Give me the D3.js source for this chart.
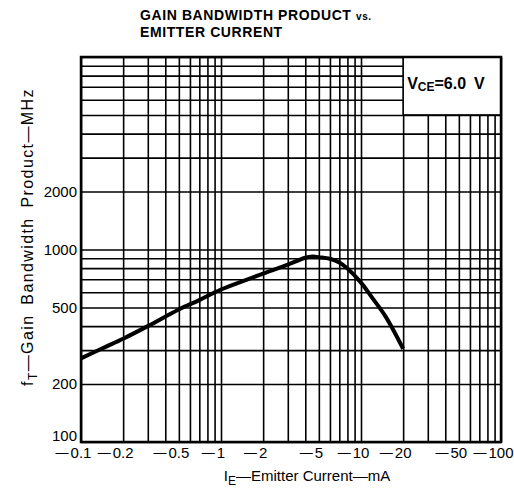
<!DOCTYPE html>
<html>
<head>
    <title>Gain Bandwidth Product vs. Emitter Current</title>
    <style>
        body {
            margin: 0;
            background-color: #ffffff;
        }
        text {
            font-family: "Liberation Sans", Arial, Helvetica, sans-serif;
            fill: #000;
        }
        .grid line {
            stroke: #000;
            stroke-width: 1.6px;
        }
        .grid path {
            display: none;
        }
    </style>
    <script src="https://d3js.org/d3.v7.min.js"></script>
</head>
<body>
    <div id="chart"></div>
    <script>
        // emitter current (mA) and f_T (MHz)
        var currents = [-0.1, -0.15, -0.2, -0.3, -0.5, -0.7, -1, -1.5, -2, -3, -4, -4.5, -5, -6, -7, -8, -10, -12, -15, -20];
        var gainBw = [272, 312, 344, 400, 488, 546, 620, 694, 750, 835, 906, 920, 912, 895, 855, 796, 673, 562, 448, 305];

        var xTickLabels = [-0.1, -0.2, -0.5, -1, -2, -5, -10, -20, -50, -100];
        var yTickLabels = [100, 200, 500, 1000, 2000];

        var margin = { top: 57, right: 13, bottom: 62, left: 81 };
        var width = 514 - margin.left - margin.right;
        var height = 504 - margin.top - margin.bottom;

        var root = d3.select('#chart')
            .append('svg')
            .attr('width', 514)
            .attr('height', 504);

        var svg = root.append('g')
            .attr('transform', 'translate(' + margin.left + ',' + margin.top + ')');

        var x = d3.scaleLog()
            .domain([0.1, 100])
            .range([0, width]);

        var y = d3.scaleLog()
            .domain([100, 10000])
            .range([height, 0]);

        // log grid
        svg.append('g')
            .attr('class', 'grid')
            .attr('transform', 'translate(0,' + height + ')')
            .call(d3.axisBottom(x).tickValues(x.ticks()).tickSize(-height).tickFormat(''));

        svg.append('g')
            .attr('class', 'grid')
            .call(d3.axisLeft(y).tickValues(y.ticks()).tickSize(-width).tickFormat(''));

        // V_CE box in the top right corner
        svg.append('rect')
            .attr('x', x(20))
            .attr('y', 0)
            .attr('width', width - x(20))
            .attr('height', y(5000))
            .style('fill', '#fff')
            .style('stroke', '#000')
            .style('stroke-width', 1.6);

        var vce = svg.append('text')
            .attr('x', x(20) + 4)
            .attr('y', 32)
            .style('font-size', '16px')
            .style('font-weight', 'bold');
        vce.append('tspan').text('V');
        vce.append('tspan').attr('dy', 2).style('font-size', '12px').text('CE');
        vce.append('tspan').attr('dy', -2).text('=6.0\u2002V');

        // frame
        svg.append('rect')
            .attr('width', width)
            .attr('height', height)
            .style('fill', 'none')
            .style('stroke', '#000')
            .style('stroke-width', 2.5);

        // curve
        var line = d3.line()
            .x(function(d) { return x(Math.abs(d[0])); })
            .y(function(d) { return y(d[1]); })
            .curve(d3.curveCatmullRom);

        svg.append('path')
            .datum(currents.map(function(c, i) { return [c, gainBw[i]]; }))
            .attr('d', line)
            .style('fill', 'none')
            .style('stroke', '#000')
            .style('stroke-width', 4)
            .style('stroke-linecap', 'butt');

        // y tick labels (the bottom one sits a little above the frame)
        svg.selectAll('.ylab')
            .data(yTickLabels)
            .enter()
            .append('text')
            .attr('class', 'ylab')
            .attr('x', -4)
            .attr('y', function(d) { return Math.min(y(d), height - 6); })
            .attr('dy', '0.35em')
            .style('text-anchor', 'end')
            .style('font-size', '15px')
            .text(function(d) { return d; });

        // x tick labels: number centred on the gridline, minus hangs left
        xTickLabels.forEach(function(d) {
            var cx = x(Math.abs(d));
            var num = svg.append('text')
                .attr('x', cx)
                .attr('y', height + 16)
                .style('text-anchor', 'middle')
                .style('font-size', '15px')
                .text(String(Math.abs(d)));
            var w = num.node().getComputedTextLength();
            svg.append('text')
                .attr('x', cx - w / 2 - 2)
                .attr('y', height + 15)
                .style('text-anchor', 'end')
                .style('font-size', '13px')
                .text('\u2014');
        });

        // title
        var title = root.append('text')
            .attr('x', 140)
            .attr('y', 20)
            .style('font-size', '14px')
            .style('font-weight', 'bold')
            .style('letter-spacing', '0.6px');
        title.append('tspan').text('GAIN BANDWIDTH PRODUCT ');
        title.append('tspan').style('font-size', '10px').text('vs.');

        root.append('text')
            .attr('x', 140)
            .attr('y', 37)
            .style('font-size', '14px')
            .style('font-weight', 'bold')
            .style('letter-spacing', '0.6px')
            .text('EMITTER CURRENT');

        // x axis label
        var xl = root.append('text')
            .attr('x', 307)
            .attr('y', 481)
            .style('text-anchor', 'middle')
            .style('font-size', '15px');
        xl.append('tspan').text('I');
        xl.append('tspan').attr('dy', 4).style('font-size', '12px').text('E');
        xl.append('tspan').attr('dy', -4).text('\u2014Emitter Current\u2014mA');

        // y axis label
        var yl = root.append('text')
            .attr('transform', 'translate(33,237) rotate(-90)')
            .style('text-anchor', 'middle')
            .style('font-size', '16px')
            .style('letter-spacing', '1.4px')
            .style('word-spacing', '4px');
        yl.append('tspan').text('f');
        yl.append('tspan').attr('dy', 4).style('font-size', '12px').text('T');
        yl.append('tspan').attr('dy', -4).text('\u2014Gain Bandwidth Product\u2014MHz');
    </script>
</body>
</html>
